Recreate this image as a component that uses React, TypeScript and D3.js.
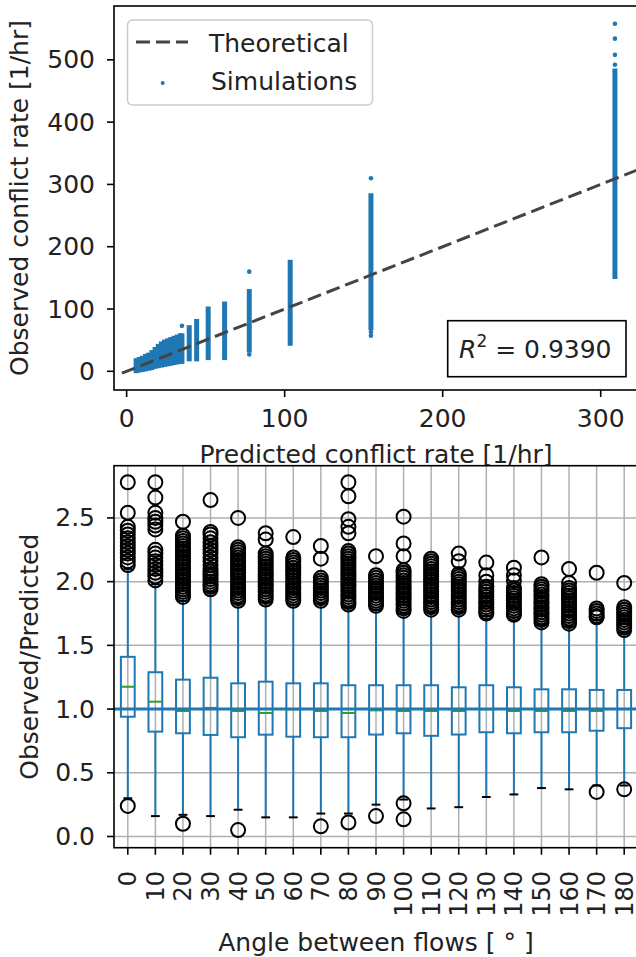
import React from 'react';
import * as d3 from 'd3';

const W = 636;
const H = 957;
const FONT = 'DejaVu Sans, sans-serif';
const FS = 25;
const BLUE = '#1f77b4';

// top panel: simulated vs predicted conflict rate
const colPredicted = [39.6, 44.3, 51.6, 62, 77.6, 103.5, 154.6, 309];
const colObsLow = [20, 20, 22, 22, 34, 45, 70, 152];
const colObsHigh = [70, 80, 100, 108, 128, 175, 282, 482];

const clusterPredicted = [6, 8, 10, 12, 14, 16, 18, 20, 22, 24, 26, 28, 30, 32, 34, 35];
const clusterObsLow = [1, 2, 3, 4, 5, 6, 8, 9, 10, 11, 12, 13, 14, 15, 16, 16];
const clusterObsHigh = [17, 19, 21, 24, 26, 30, 35, 40, 44, 47, 49, 51, 53, 55, 57, 57];

const strayPredicted = [35, 77.6, 77.6, 154.6, 154.6, 154.6, 309, 309, 309, 309];
const strayObserved = [73, 160, 27, 310, 63, 57, 558, 534, 508, 492];

const theoryLine = [-3, 330];
const rSquared = '0.9390';

const topXTicks = [0, 100, 200, 300];
const topYTicks = [0, 100, 200, 300, 400, 500];

// bottom panel: observed/predicted by angle
const angles = [0, 10, 20, 30, 40, 50, 60, 70, 80, 90, 100, 110, 120, 130, 140, 150, 160, 170, 180];
const q1 = [0.94, 0.823, 0.81, 0.797, 0.779, 0.799, 0.783, 0.779, 0.779, 0.8, 0.81, 0.79, 0.8, 0.818, 0.81, 0.818, 0.818, 0.83, 0.85];
const med = [1.175, 1.058, 0.985, 1.009, 0.985, 0.969, 0.998, 0.985, 0.969, 0.99, 0.985, 0.985, 0.985, 0.998, 0.985, 0.985, 0.985, 0.985, 1.0];
const q3 = [1.41, 1.289, 1.231, 1.246, 1.202, 1.215, 1.202, 1.202, 1.187, 1.187, 1.187, 1.187, 1.171, 1.187, 1.171, 1.155, 1.155, 1.15, 1.15];
const whiskLo = [0.3, 0.16, 0.17, 0.16, 0.21, 0.15, 0.15, 0.18, 0.18, 0.25, 0.29, 0.22, 0.23, 0.31, 0.33, 0.38, 0.37, 0.4, 0.4];
const whiskHi = [2.1, 1.98, 1.85, 1.92, 1.83, 1.84, 1.82, 1.83, 1.8, 1.78, 1.75, 1.76, 1.76, 1.73, 1.72, 1.66, 1.65, 1.7, 1.6];
const fliers = [
  [2.78, 2.54, 2.43, 2.4, 2.37, 2.34, 2.31, 2.28, 2.25, 2.22, 2.19, 2.16, 2.13, 0.24],
  [2.78, 2.66, 2.54, 2.5, 2.47, 2.44, 2.41, 2.25, 2.22, 2.19, 2.16, 2.13, 2.1, 2.07, 2.04, 2.01],
  [2.47, 2.36, 2.34, 2.32, 2.3, 2.28, 2.26, 2.24, 2.22, 2.2, 2.18, 2.16, 2.14, 2.12, 2.1, 2.08, 2.06, 2.04, 2.02, 2.0, 1.98, 1.96, 1.94, 1.92, 1.9, 1.88, 0.1],
  [2.64, 2.39, 2.37, 2.34, 2.31, 2.28, 2.25, 2.22, 2.19, 2.16, 2.13, 2.1, 2.08, 2.06, 2.04, 2.02, 2.0, 1.98, 1.96, 1.94],
  [2.5, 2.27, 2.25, 2.23, 2.21, 2.19, 2.17, 2.15, 2.13, 2.11, 2.09, 2.07, 2.05, 2.03, 2.01, 1.99, 1.97, 1.95, 1.93, 1.91, 1.89, 1.87, 1.85, 0.05],
  [2.38, 2.33, 2.22, 2.2, 2.18, 2.16, 2.14, 2.12, 2.1, 2.08, 2.06, 2.04, 2.02, 2.0, 1.98, 1.96, 1.94, 1.92, 1.9, 1.88, 1.86],
  [2.35, 2.19, 2.17, 2.15, 2.13, 2.11, 2.09, 2.07, 2.05, 2.03, 2.01, 1.99, 1.97, 1.95, 1.93, 1.91, 1.89, 1.87, 1.85],
  [2.28, 2.18, 2.03, 2.01, 1.99, 1.97, 1.95, 1.93, 1.91, 1.89, 1.87, 1.85, 0.08],
  [2.78, 2.67, 2.49, 2.43, 2.38, 2.24, 2.22, 2.2, 2.18, 2.16, 2.14, 2.12, 2.1, 2.08, 2.06, 2.04, 2.02, 2.0, 1.98, 1.96, 1.94, 1.92, 1.9, 1.88, 1.86, 1.84, 1.82, 0.11],
  [2.2, 2.05, 2.03, 2.01, 1.99, 1.97, 1.95, 1.93, 1.91, 1.89, 1.87, 1.85, 1.83, 1.81, 0.16],
  [2.51, 2.3, 2.2, 2.09, 2.07, 2.05, 2.03, 2.01, 1.99, 1.97, 1.95, 1.93, 1.91, 1.89, 1.87, 1.85, 1.83, 1.81, 1.79, 1.77, 0.26, 0.135],
  [2.18, 2.16, 2.14, 2.12, 2.1, 2.08, 2.06, 2.04, 2.02, 2.0, 1.98, 1.96, 1.94, 1.92, 1.9, 1.88, 1.86, 1.84, 1.82, 1.8, 1.78],
  [2.22, 2.16, 2.06, 2.04, 2.02, 2.0, 1.98, 1.96, 1.94, 1.92, 1.9, 1.88, 1.86, 1.84, 1.82, 1.8, 1.78],
  [2.15, 2.05, 2.0, 1.96, 1.94, 1.92, 1.9, 1.88, 1.86, 1.84, 1.82, 1.8, 1.78, 1.76, 1.75],
  [2.11, 2.05, 2.01, 1.95, 1.93, 1.91, 1.89, 1.87, 1.85, 1.83, 1.81, 1.79, 1.77, 1.75, 1.74],
  [2.19, 1.98, 1.96, 1.94, 1.92, 1.9, 1.88, 1.86, 1.84, 1.82, 1.8, 1.78, 1.76, 1.74, 1.72, 1.7, 1.68],
  [2.1, 1.99, 1.95, 1.93, 1.91, 1.89, 1.87, 1.85, 1.83, 1.81, 1.79, 1.77, 1.75, 1.73, 1.71, 1.69, 1.67],
  [2.07, 1.79, 1.77, 1.75, 1.73, 1.72, 0.35],
  [1.99, 1.8, 1.78, 1.76, 1.74, 1.72, 1.7, 1.68, 1.66, 1.64, 1.62, 0.37],
];
const botYTicks = [0, 0.5, 1, 1.5, 2, 2.5];

export default function App() {
  // top axes box
  const tL = 114, tR = 638, tT = 6, tB = 390;
  const xTop = d3.scaleLinear().domain([-8, 323.6]).range([tL, tR]);
  const yTop = d3.scaleLinear().domain([-30, 586.4]).range([tB, tT]);

  // bottom axes box
  const bL = 114, bR = 638, bT = 465.7, bB = 847.7;
  const xBot = d3.scaleBand<number>().domain(angles).range([bL, bR]);
  const yBot = d3.scaleLinear().domain([-0.088, 2.91]).range([bB, bT]);
  const bw = xBot.bandwidth();
  const cx = (a: number) => (xBot(a) as number) + bw / 2;
  const half = bw * 0.25;
  const capHalf = bw * 0.16;

  const theoryPath = d3.line<number>().x((d) => xTop(d)).y((d) => yTop(d))(theoryLine) as string;

  return (
    <svg width={W} height={H} style={{ position: 'absolute', left: 0, top: 0, background: '#fff' }} fontFamily={FONT}>
      <defs>
        <clipPath id="topclip">
          <rect x={tL} y={tT} width={tR - tL} height={tB - tT} />
        </clipPath>
      </defs>

      {/* ---------- top panel ---------- */}
      <g clipPath="url(#topclip)">
        {clusterPredicted.map((p, i) => (
          <line key={'c' + i} x1={xTop(p)} x2={xTop(p)} y1={yTop(clusterObsLow[i])} y2={yTop(clusterObsHigh[i])}
            stroke={BLUE} strokeWidth={5} strokeLinecap="square" />
        ))}
        {colPredicted.map((p, i) => (
          <line key={'k' + i} x1={xTop(p)} x2={xTop(p)} y1={yTop(colObsLow[i])} y2={yTop(colObsHigh[i])}
            stroke={BLUE} strokeWidth={5} strokeLinecap="square" />
        ))}
        {strayPredicted.map((p, i) => (
          <circle key={'s' + i} cx={xTop(p)} cy={yTop(strayObserved[i])} r={2.3} fill={BLUE} />
        ))}
        <path d={theoryPath} stroke="#444" strokeWidth={3} strokeDasharray="14,6" fill="none" />
      </g>
      <rect x={tL} y={tT} width={tR - tL} height={tB - tT} fill="none" stroke="#000" strokeWidth={1.6} />

      {topXTicks.map((t) => (
        <g key={'tx' + t}>
          <line x1={xTop(t)} x2={xTop(t)} y1={tB} y2={tB + 7} stroke="#000" strokeWidth={1.6} />
          <text x={xTop(t)} y={tB + 37} fontSize={FS} textAnchor="middle" fill="#222">{t}</text>
        </g>
      ))}
      {topYTicks.map((t) => (
        <g key={'ty' + t}>
          <line x1={tL - 7} x2={tL} y1={yTop(t)} y2={yTop(t)} stroke="#000" strokeWidth={1.6} />
          <text x={tL - 19} y={yTop(t)} fontSize={FS} textAnchor="end" dominantBaseline="central" fill="#222">{t}</text>
        </g>
      ))}
      <text x={(tL + tR) / 2} y={463} fontSize={FS} textAnchor="middle" fill="#222">Predicted conflict rate [1/hr]</text>
      <text transform={`translate(28,${(tT + tB) / 2}) rotate(-90)`} fontSize={FS} textAnchor="middle" fill="#222">
        Observed conflict rate [1/hr]
      </text>

      {/* legend */}
      <rect x={127.5} y={20} width={245} height={85} rx={5} fill="#fff" fillOpacity={0.8} stroke="#ccc" strokeWidth={1.5} />
      <line x1={136} x2={188} y1={42} y2={42} stroke="#444" strokeWidth={3} strokeDasharray="14,6" />
      <text x={209} y={52} fontSize={FS} fill="#222">Theoretical</text>
      <circle cx={162.7} cy={83} r={2} fill={BLUE} />
      <text x={211} y={90} fontSize={FS} fill="#222">Simulations</text>

      {/* R^2 box */}
      <rect x={447.7} y={320.7} width={178.3} height={56} fill="#fff" stroke="#000" strokeWidth={1.6} />
      <text x={459} y={358} fontSize={FS} fill="#222">
        <tspan fontStyle="italic">R</tspan>
        <tspan fontSize={17} dy={-11}>2</tspan>
        <tspan dy={11}>{` = ${rSquared}`}</tspan>
      </text>

      {/* ---------- bottom panel ---------- */}
      {angles.map((a) => (
        <line key={'gx' + a} x1={cx(a)} x2={cx(a)} y1={bT} y2={bB} stroke="#b0b0b0" strokeWidth={1.5} />
      ))}
      {botYTicks.map((t) => (
        <line key={'gy' + t} x1={bL} x2={bR} y1={yBot(t)} y2={yBot(t)} stroke="#b0b0b0" strokeWidth={1.5} />
      ))}

      {angles.map((a, i) => {
        const x = cx(a);
        return (
          <g key={'b' + a}>
            <line x1={x} x2={x} y1={yBot(q3[i])} y2={yBot(whiskHi[i])} stroke={BLUE} strokeWidth={2} />
            <line x1={x} x2={x} y1={yBot(q1[i])} y2={yBot(whiskLo[i])} stroke={BLUE} strokeWidth={2} />
            <line x1={x - capHalf} x2={x + capHalf} y1={yBot(whiskHi[i])} y2={yBot(whiskHi[i])} stroke="#000" strokeWidth={2} />
            <line x1={x - capHalf} x2={x + capHalf} y1={yBot(whiskLo[i])} y2={yBot(whiskLo[i])} stroke="#000" strokeWidth={2} />
            <rect x={x - half} y={yBot(q3[i])} width={half * 2} height={yBot(q1[i]) - yBot(q3[i])} fill="none" stroke={BLUE} strokeWidth={2} />
            <line x1={x - half} x2={x + half} y1={yBot(med[i])} y2={yBot(med[i])} stroke="#2ca02c" strokeWidth={2} />
            {fliers[i].map((v, j) => (
              <circle key={j} cx={x} cy={yBot(v)} r={7} fill="none" stroke="#000" strokeWidth={2} />
            ))}
          </g>
        );
      })}
      <line x1={bL} x2={bR} y1={yBot(1)} y2={yBot(1)} stroke={BLUE} strokeWidth={3} />
      <rect x={bL} y={bT} width={bR - bL} height={bB - bT} fill="none" stroke="#000" strokeWidth={1.6} />

      {angles.map((a) => (
        <g key={'bx' + a}>
          <line x1={cx(a)} x2={cx(a)} y1={bB} y2={bB + 7} stroke="#000" strokeWidth={1.6} />
          <text transform={`translate(${cx(a) + 8.5},871) rotate(-90)`} fontSize={24} textAnchor="end" fill="#222">{a}</text>
        </g>
      ))}
      {botYTicks.map((t) => (
        <g key={'by' + t}>
          <line x1={bL - 7} x2={bL} y1={yBot(t)} y2={yBot(t)} stroke="#000" strokeWidth={1.6} />
          <text x={bL - 19} y={yBot(t)} fontSize={FS} textAnchor="end" dominantBaseline="central" fill="#222">{t.toFixed(1)}</text>
        </g>
      ))}
      <text x={(bL + bR) / 2} y={951} fontSize={FS} textAnchor="middle" fill="#222">Angle between flows [ ° ]</text>
      <text transform={`translate(38,${(bT + bB) / 2}) rotate(-90)`} fontSize={FS} textAnchor="middle" fill="#222">
        Observed/Predicted
      </text>
    </svg>
  );
}
